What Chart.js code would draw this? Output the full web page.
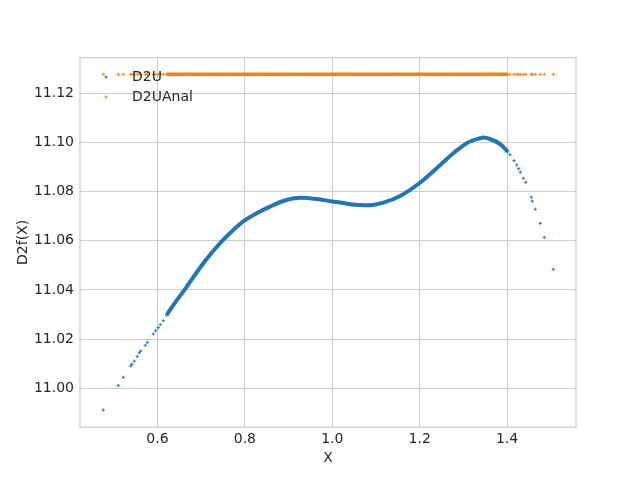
<!DOCTYPE html>
<html>
<head>
<meta charset="utf-8">
<script src="https://cdn.jsdelivr.net/npm/chart.js@4/dist/chart.umd.min.js"></script>
<style>
  html, body { margin: 0; padding: 0; background: #ffffff; }
  #wrap { width: 640px; height: 480px; }
</style>
</head>
<body>
<div id="wrap"><canvas id="chart" width="640" height="480"></canvas></div>
<script>
// Valores
const xValues = [
    0.476, 0.5103, 0.5217, 0.5387, 0.5416, 0.5469, 0.5538, 0.5584, 0.5616, 0.5721,
    0.5767, 0.5904, 0.5959, 0.6018, 0.6064, 0.6133, 0.6211,
    0.6286, 0.6668, 0.7048, 0.743, 0.7735, 0.7986, 0.827, 0.8574, 0.8879,
    0.926, 0.9643, 1.0, 1.0176, 1.0405, 1.063, 1.0863, 1.1167, 1.155, 1.199,
    1.2389, 1.2769, 1.3075, 1.338, 1.345, 1.361, 1.384, 1.4014,
    1.4066, 1.4158, 1.422, 1.4265, 1.4302, 1.4371, 1.4426, 1.4554, 1.4577,
    1.4645, 1.476, 1.4851, 1.5057
];
const d2u = [
    10.9912, 11.0012, 11.0045, 11.0091, 11.0098, 11.0111, 11.0130, 11.0145, 11.0152, 11.0175,
    11.0187, 11.0221, 11.0234, 11.0247, 11.0259, 11.0275, 11.0298,
    11.0319, 11.0413, 11.0509, 11.0590, 11.0644, 11.0682, 11.0712, 11.0739, 11.0762,
    11.0775, 11.0770, 11.0760, 11.0756, 11.0749, 11.0746, 11.0745, 11.0755, 11.0782, 11.0834,
    11.0895, 11.0956, 11.0997, 11.1017, 11.1020, 11.1014, 11.0993, 11.0962,
    11.0950, 11.0926, 11.0908, 11.0893, 11.0879, 11.0854, 11.0838, 11.0777, 11.0761,
    11.0728, 11.0671, 11.0614, 11.0484
];
const d2uAnal = [
    11.1277, 11.1277, 11.1277, 11.1277, 11.1277, 11.1277, 11.1277, 11.1277, 11.1277, 11.1277,
    11.1277, 11.1277, 11.1277, 11.1277, 11.1277, 11.1277, 11.1277,
    11.1277, 11.1277, 11.1277, 11.1277, 11.1277, 11.1277, 11.1277, 11.1277, 11.1277,
    11.1277, 11.1277, 11.1277, 11.1277, 11.1277, 11.1277, 11.1277, 11.1277, 11.1277, 11.1277,
    11.1277, 11.1277, 11.1277, 11.1277, 11.1277, 11.1277, 11.1277, 11.1277,
    11.1277, 11.1277, 11.1277, 11.1277, 11.1277, 11.1277, 11.1277, 11.1277, 11.1277,
    11.1277, 11.1277, 11.1277, 11.1277
];
// Tramo donde los puntos están tan juntos que forman una banda continua
const denseRange = [0.62, 1.402];

const xTicks = [0.6, 0.8, 1.0, 1.2, 1.4];
const yTicks = [11.00, 11.02, 11.04, 11.06, 11.08, 11.10, 11.12];
const seriesLabels = ['D2U', 'D2UAnal'];

const BLUE = '#1f77b4';
const ORANGE = '#ff7f0e';
const TEXT = '#262626';
const GRID = '#cccccc';
const FONT = "'DejaVu Sans', sans-serif";

function toPoints(xs, ys) {
    return xs.map((x, i) => ({ x: x, y: ys[i] }));
}

function inDense(x) {
    return x >= denseRange[0] && x <= denseRange[1];
}

function makeDataset(label, ys, color, lineWidth) {
    return {
        label: label,
        data: toPoints(xValues, ys),
        showLine: true,
        borderColor: color,
        backgroundColor: color,
        borderWidth: lineWidth,
        cubicInterpolationMode: 'monotone',
        pointStyle: 'cross',
        pointRadius: 1.6,
        pointBorderWidth: 1,
        pointBorderColor: color,
        pointHoverRadius: 1.6,
        segment: {
            borderColor: ctx => (inDense(ctx.p0.parsed.x) && inDense(ctx.p1.parsed.x)) ? color : 'transparent'
        }
    };
}

// Marco completo y leyenda dentro del área (estilo matplotlib)
const framePlugin = {
    id: 'framePlugin',
    afterDatasetsDraw(chart) {
        const { ctx, chartArea } = chart;
        ctx.save();
        ctx.strokeStyle = GRID;
        ctx.lineWidth = 1.25;
        ctx.strokeRect(chartArea.left, chartArea.top,
            chartArea.right - chartArea.left, chartArea.bottom - chartArea.top);

        const colors = [BLUE, ORANGE];
        const rows = [77, 97];
        ctx.font = '14px ' + FONT;
        ctx.textBaseline = 'middle';
        ctx.textAlign = 'left';
        seriesLabels.forEach((label, i) => {
            const mx = 106, my = rows[i];
            ctx.strokeStyle = colors[i];
            ctx.lineWidth = 1;
            ctx.beginPath();
            ctx.moveTo(mx - 1.6, my); ctx.lineTo(mx + 1.6, my);
            ctx.moveTo(mx, my - 1.6); ctx.lineTo(mx, my + 1.6);
            ctx.stroke();
            ctx.fillStyle = TEXT;
            ctx.fillText(label, 132, my);
        });
        ctx.restore();
    }
};

function initChart() {
    const ctx = document.getElementById('chart').getContext('2d');
    new Chart(ctx, {
        type: 'scatter',
        data: {
            datasets: [
                makeDataset(seriesLabels[0], d2u, BLUE, 4),
                makeDataset(seriesLabels[1], d2uAnal, ORANGE, 3.5)
            ]
        },
        options: {
            responsive: false,
            animation: false,
            events: [],
            layout: { padding: { left: 0, right: 64, top: 57.6, bottom: 0 } },
            plugins: {
                legend: { display: false },
                tooltip: { enabled: false },
                title: { display: false }
            },
            scales: {
                x: {
                    type: 'linear',
                    min: 0.4227,
                    max: 1.5577,
                    afterFit: s => { s.height = 52.8; },
                    afterBuildTicks: s => { s.ticks = xTicks.map(v => ({ value: v })); },
                    border: { display: false },
                    grid: { color: GRID, lineWidth: 1, drawTicks: false },
                    ticks: {
                        padding: 4,
                        color: TEXT,
                        font: { family: FONT, size: 14 },
                        callback: v => Number(v).toFixed(1)
                    },
                    title: {
                        display: true,
                        text: 'X',
                        color: TEXT,
                        font: { family: FONT, size: 14 },
                        padding: { top: 0, bottom: 13 }
                    }
                },
                y: {
                    type: 'linear',
                    min: 10.9842,
                    max: 11.1345,
                    afterFit: s => { s.width = 80; },
                    afterBuildTicks: s => { s.ticks = yTicks.map(v => ({ value: v })); },
                    border: { display: false },
                    grid: { color: GRID, lineWidth: 1, drawTicks: false },
                    ticks: {
                        padding: 6,
                        color: TEXT,
                        font: { family: FONT, size: 14 },
                        callback: v => Number(v).toFixed(2)
                    },
                    title: {
                        display: true,
                        text: 'D2f(X)',
                        color: TEXT,
                        font: { family: FONT, size: 14 },
                        padding: { top: 15, bottom: 0 }
                    }
                }
            }
        },
        plugins: [framePlugin]
    });
}

document.addEventListener('DOMContentLoaded', initChart);
</script>
</body>
</html>
